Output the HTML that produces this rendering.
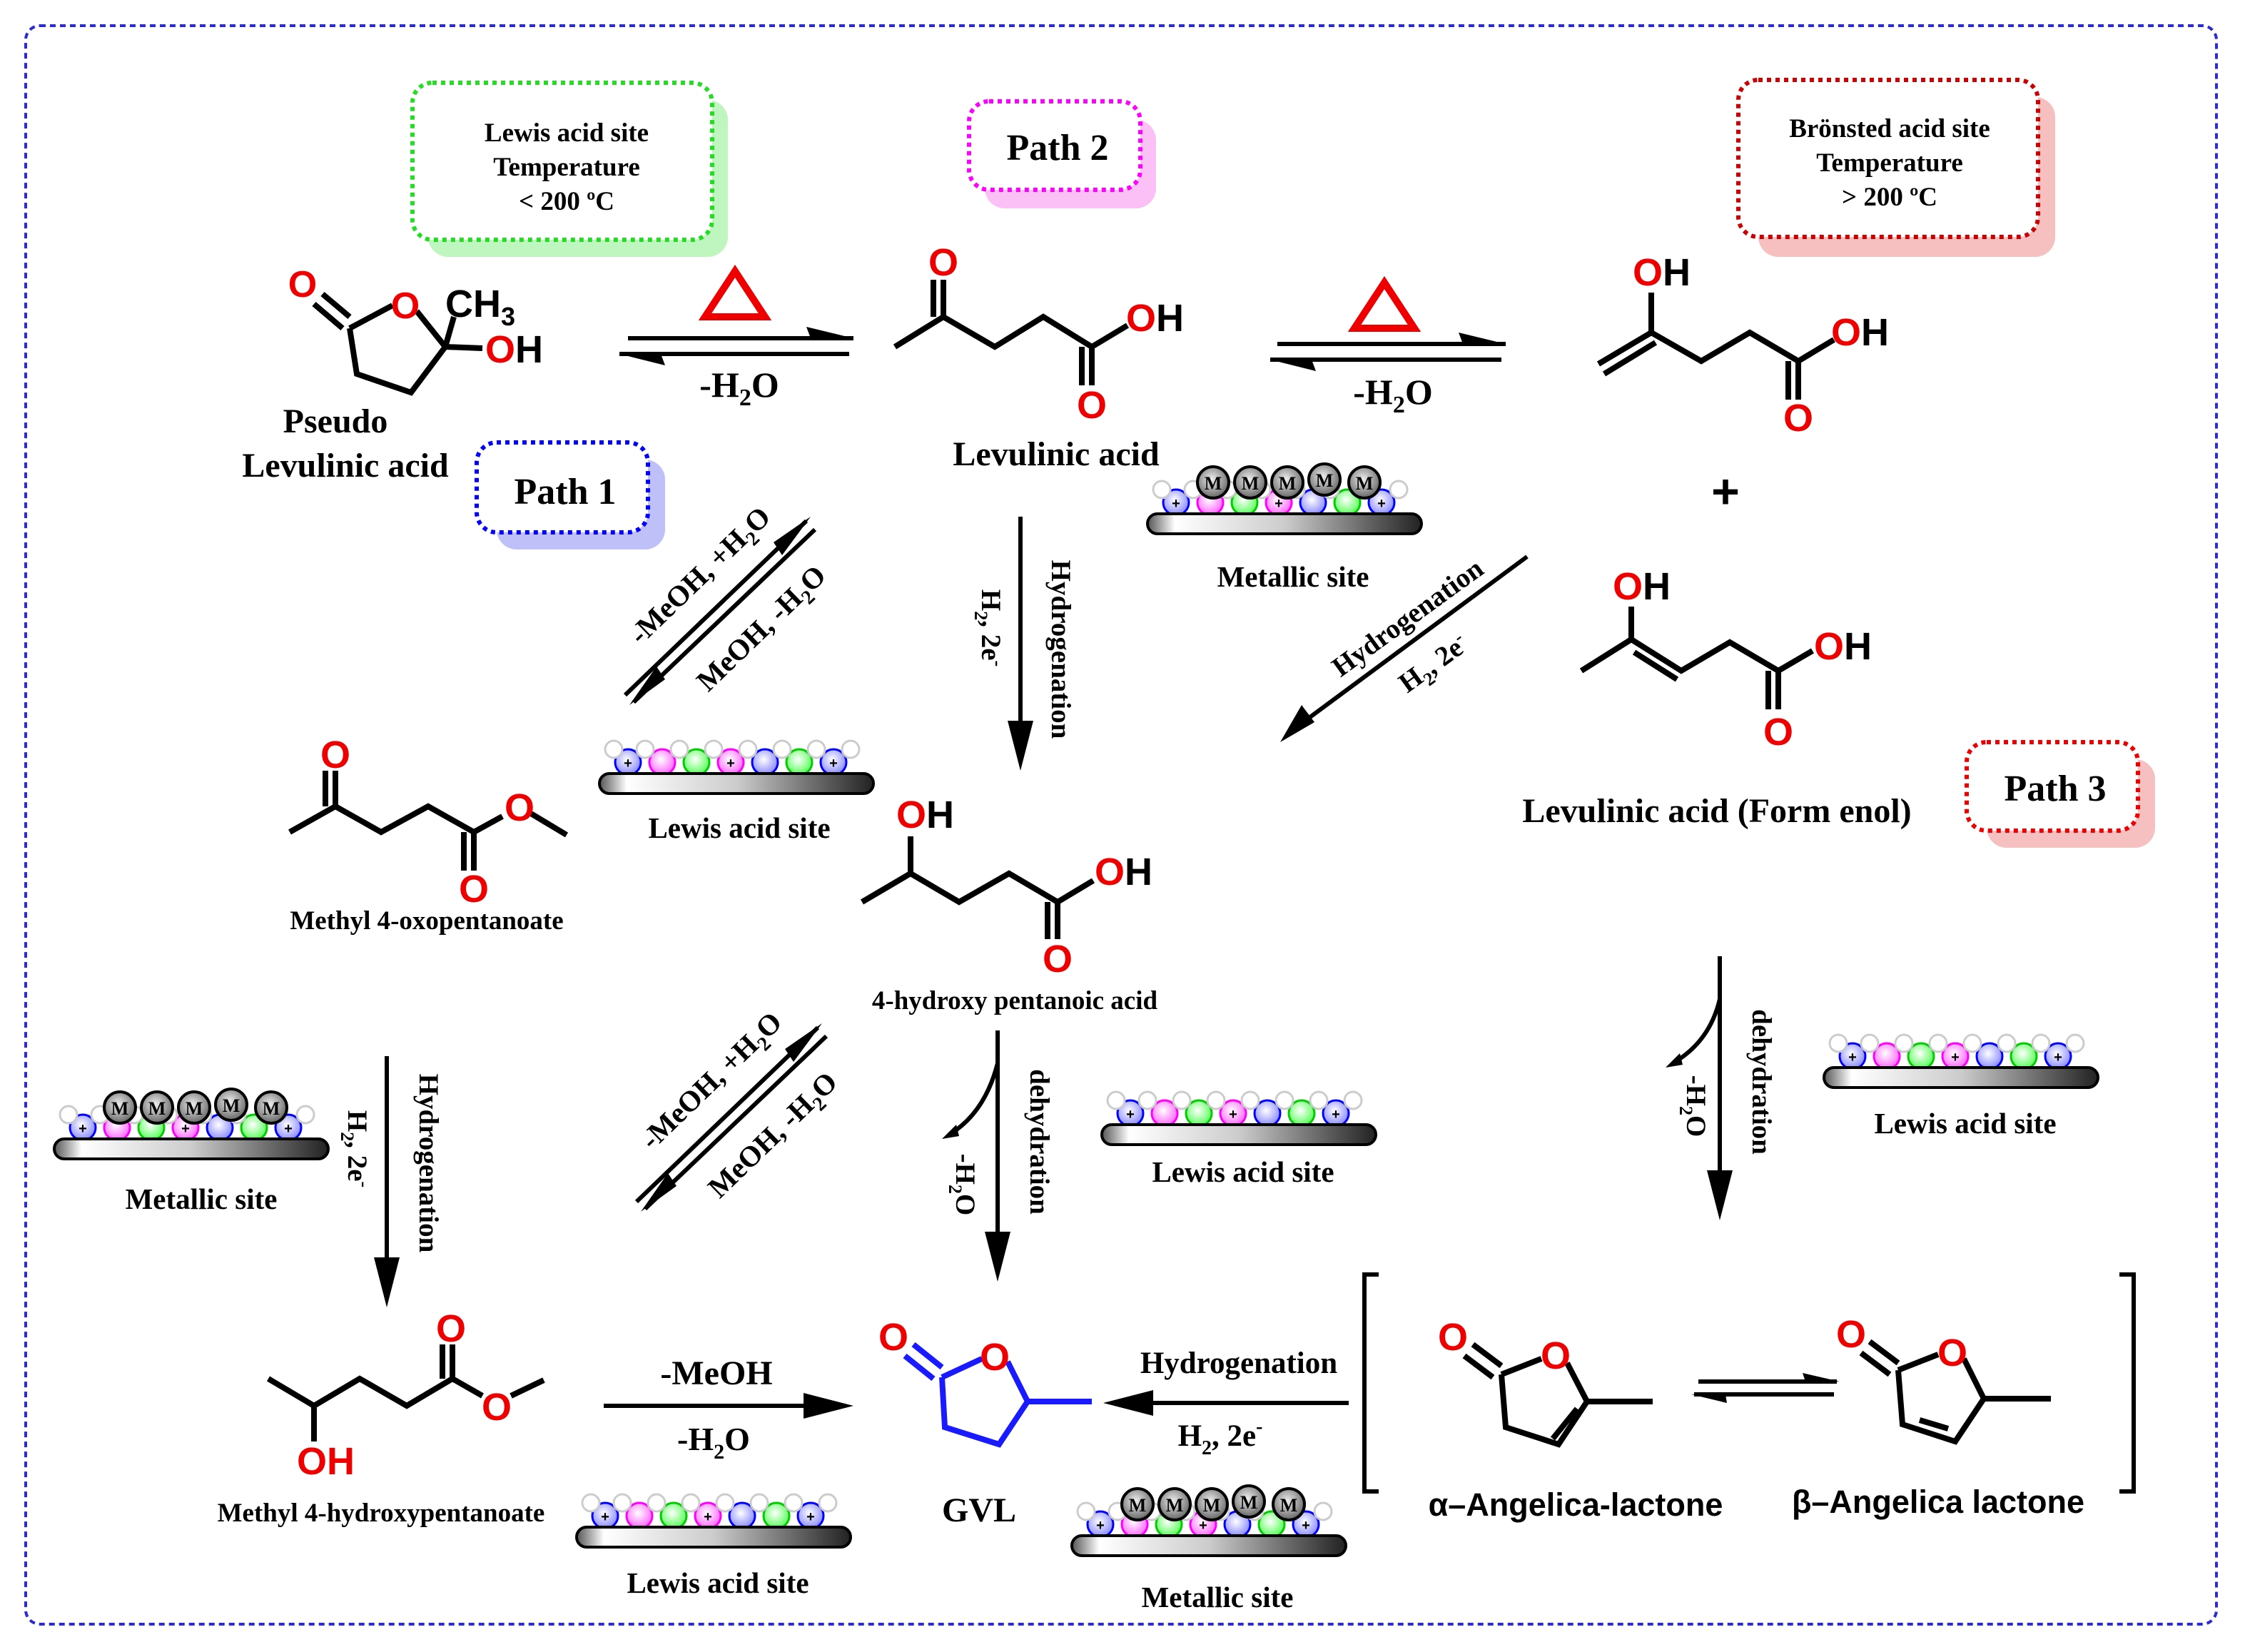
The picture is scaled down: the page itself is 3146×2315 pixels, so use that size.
<!DOCTYPE html>
<html><head><meta charset="utf-8"><style>
html,body{margin:0;padding:0;background:#fff}
svg{display:block}
.t{font-family:"Liberation Serif",serif;font-weight:bold;fill:#000}
.a{font-family:"Liberation Sans",sans-serif;font-weight:bold}
.r{fill:#e00}
.b{fill:none;stroke:#000;stroke-width:4;stroke-linejoin:miter;stroke-linecap:butt}
.bl{fill:none;stroke:#1a1aff;stroke-width:4}
.ln{stroke:#000;stroke-width:3;fill:none}
</style></head><body>
<svg width="3146" height="2315" viewBox="0 0 1573 1157.5" xmlns="http://www.w3.org/2000/svg">
<defs>
<linearGradient id="bar" x1="0" y1="0" x2="1" y2="0"><stop offset="0" stop-color="#555"/><stop offset="0.1" stop-color="#fff"/><stop offset="0.5" stop-color="#ccc"/><stop offset="1" stop-color="#222"/></linearGradient>
<radialGradient id="gb" cx="0.45" cy="0.4" r="0.6"><stop offset="0" stop-color="#fff"/><stop offset="1" stop-color="#88f"/></radialGradient>
<radialGradient id="gp" cx="0.45" cy="0.4" r="0.6"><stop offset="0" stop-color="#fff"/><stop offset="1" stop-color="#f6f"/></radialGradient>
<radialGradient id="gg" cx="0.45" cy="0.4" r="0.6"><stop offset="0" stop-color="#fff"/><stop offset="1" stop-color="#5f5"/></radialGradient>
<radialGradient id="gm" cx="0.45" cy="0.4" r="0.6"><stop offset="0" stop-color="#eee"/><stop offset="1" stop-color="#666"/></radialGradient>
<g id="lew">
<circle cx="14" cy="22" r="9" fill="url(#gb)" stroke="#00f" stroke-width="1.5"/>
<circle cx="38" cy="22" r="9" fill="url(#gp)" stroke="#f0f" stroke-width="1.5"/>
<circle cx="62" cy="22" r="9" fill="url(#gg)" stroke="#0c0" stroke-width="1.5"/>
<circle cx="86" cy="22" r="9" fill="url(#gp)" stroke="#f0f" stroke-width="1.5"/>
<circle cx="110" cy="22" r="9" fill="url(#gb)" stroke="#00f" stroke-width="1.5"/>
<circle cx="134" cy="22" r="9" fill="url(#gg)" stroke="#0c0" stroke-width="1.5"/>
<circle cx="158" cy="22" r="9" fill="url(#gb)" stroke="#00f" stroke-width="1.5"/>
<g fill="#fff" stroke="#ccc" stroke-width="1.5"><circle cx="4" cy="13" r="6"/><circle cx="26" cy="13" r="6"/><circle cx="50" cy="13" r="6"/><circle cx="74" cy="13" r="6"/><circle cx="98" cy="13" r="6"/><circle cx="122" cy="13" r="6"/><circle cx="146" cy="13" r="6"/><circle cx="170" cy="13" r="6"/></g>
<text x="14" y="26" font-size="10" class="a" text-anchor="middle">+</text><text x="86" y="26" font-size="10" class="a" text-anchor="middle">+</text><text x="158" y="26" font-size="10" class="a" text-anchor="middle">+</text>
<rect x="-6" y="30" width="192" height="14" rx="7" fill="url(#bar)" stroke="#000" stroke-width="2"/>
</g>
<g id="met">
<use href="#lew"/>
<g stroke="#000" stroke-width="2" fill="url(#gm)"><circle cx="40" cy="8" r="11"/><circle cx="66" cy="8" r="11"/><circle cx="92" cy="8" r="11"/><circle cx="118" cy="6" r="11"/><circle cx="146" cy="8" r="11"/></g>
<g class="t" font-size="13" text-anchor="middle"><text x="40" y="13">M</text><text x="66" y="13">M</text><text x="92" y="13">M</text><text x="118" y="11">M</text><text x="146" y="13">M</text></g>
</g>
</defs>
<rect width="1573" height="1158" fill="#fff"/>
<rect x="18" y="18" width="1535" height="1120" rx="10" fill="none" stroke="#2b2bd0" stroke-width="2" stroke-dasharray="4,3"/>

<rect x="300" y="70" width="210" height="110" rx="14" fill="#bff5bf"/>
<rect x="289" y="58" width="210" height="110" rx="14" fill="#fff" stroke="#2d2" stroke-width="3" stroke-dasharray="3,3"/>
<text class="t" font-size="18.5" text-anchor="middle"><tspan x="397" y="99">Lewis acid site</tspan><tspan x="397" y="123">Temperature</tspan><tspan x="397" y="147">&lt; 200 ºC</tspan></text>
<rect x="690" y="84" width="120" height="62" rx="14" fill="#fbc0f5"/>
<rect x="679" y="71" width="120" height="62" rx="14" fill="#fff" stroke="#f0f" stroke-width="3" stroke-dasharray="3,3"/>
<text x="741" y="112" class="t" font-size="26" text-anchor="middle">Path 2</text>
<rect x="1232" y="68" width="208" height="112" rx="14" fill="#f6c0c0"/>
<rect x="1218" y="56" width="210" height="110" rx="14" fill="#fff" stroke="#c00" stroke-width="3" stroke-dasharray="3,3"/>
<text class="t" font-size="18.5" text-anchor="middle"><tspan x="1324" y="96">Brönsted acid site</tspan><tspan x="1324" y="120">Temperature</tspan><tspan x="1324" y="144">&gt; 200 ºC</tspan></text>
<rect x="348" y="322" width="118" height="63" rx="14" fill="#c0c0f8"/>
<rect x="334" y="310" width="120" height="63" rx="14" fill="#fff" stroke="#00f" stroke-width="3" stroke-dasharray="3,3"/>
<text x="396" y="353" class="t" font-size="26" text-anchor="middle">Path 1</text>
<rect x="1392" y="532" width="118" height="62" rx="14" fill="#f6c0c0"/>
<rect x="1378" y="520" width="120" height="62" rx="14" fill="#fff" stroke="#e00" stroke-width="3" stroke-dasharray="3,3"/>
<text x="1440" y="561" class="t" font-size="26" text-anchor="middle">Path 3</text>

<path class="b" d="M245 230 L275 214 M292 218 L312 243 L288 275 L250 262 L245 230 M312 243 L318 222 M312 243 L338 244 M226 206 L245 222 M220 213 L240 230"/>
<text x="212" y="208" class="a r" font-size="26" text-anchor="middle">O</text>
<text x="284" y="223" class="a r" font-size="26" text-anchor="middle">O</text>
<text x="312" y="222" class="a" font-size="27">CH<tspan font-size="18" dy="6">3</tspan></text>
<text x="340" y="254" class="a" font-size="27"><tspan class="r">O</tspan>H</text>
<text x="235" y="303" class="t" font-size="24" text-anchor="middle">Pseudo</text>
<text x="242" y="334" class="t" font-size="24" text-anchor="middle">Levulinic acid</text>

<path class="ln" d="M440 237 L598 237 M434 248 L595 248"/>
<path d="M598 237 L565 229 L568 237Z M434 248 L466 256 L463 248Z" fill="#000"/>
<path d="M515 190 L494 222 L536 222Z" fill="none" stroke="#e00" stroke-width="5"/>
<text x="518" y="278" class="t" font-size="25" text-anchor="middle">-H<tspan font-size="17" dy="6">2</tspan><tspan dy="-6">O</tspan></text>

<path class="b" d="M627 243 L661 222 L697 243 L731 222 L765 243 L790 228 M661 222 L661 196 M765 243 L765 270 M758 243 L758 270"/>
<path class="b" d="M654 222 L654 196"/>
<text x="661" y="193" class="a r" font-size="27" text-anchor="middle">O</text>
<text x="765" y="293" class="a r" font-size="27" text-anchor="middle">O</text>
<text x="789" y="232" class="a" font-size="27"><tspan class="r">O</tspan>H</text>
<text x="740" y="326" class="t" font-size="24" text-anchor="middle">Levulinic acid</text>

<path class="ln" d="M895 241 L1055 241 M890 252 L1052 252"/>
<path d="M1055 241 L1022 233 L1025 241Z M890 252 L922 260 L919 252Z" fill="#000"/>
<path d="M970 198 L949 230 L991 230Z" fill="none" stroke="#e00" stroke-width="5"/>
<text x="976" y="283" class="t" font-size="25" text-anchor="middle">-H<tspan font-size="17" dy="6">2</tspan><tspan dy="-6">O</tspan></text>

<path class="b" d="M1120 255 L1157 233 L1192 253 L1226 233 L1260 253 L1285 238 M1124 262 L1160 240 M1157 233 L1157 205 M1260 253 L1260 280 M1253 253 L1253 280"/>
<text x="1144" y="200" class="a" font-size="27"><tspan class="r">O</tspan>H</text>
<text x="1260" y="302" class="a r" font-size="27" text-anchor="middle">O</text>
<text x="1283" y="242" class="a" font-size="27"><tspan class="r">O</tspan>H</text>
<text x="1209" y="356" class="a" font-size="34" text-anchor="middle">+</text>
<path class="b" d="M1108 470 L1143 448 L1178 470 L1212 450 L1246 470 L1270 456 M1145 457 L1175 476 M1143 448 L1143 425 M1246 470 L1246 497 M1239 470 L1239 497"/>
<text x="1130" y="420" class="a" font-size="27"><tspan class="r">O</tspan>H</text>
<text x="1246" y="522" class="a r" font-size="27" text-anchor="middle">O</text>
<text x="1271" y="462" class="a" font-size="27"><tspan class="r">O</tspan>H</text>
<text x="1203" y="576" class="t" font-size="24" text-anchor="middle">Levulinic acid (Form enol)</text>

<use href="#met" x="810" y="330"/>
<text x="906" y="411" class="t" font-size="20.5" text-anchor="middle">Metallic site</text>

<path class="ln" d="M1070 390 L905 512"/>
<path d="M897 520 L912 494 L921 506Z" fill="#000"/>
<text class="t" font-size="19.5" transform="translate(990 438) rotate(-36)" text-anchor="middle">Hydrogenation</text>
<text class="t" font-size="19.5" transform="translate(1008 470) rotate(-36)" text-anchor="middle">H<tspan font-size="13" dy="5">2</tspan><tspan dy="-5">, 2e</tspan><tspan font-size="13" dy="-7">-</tspan></text>

<path class="ln" d="M715 362 L715 512"/>
<path d="M715 540 L706 505 L724 505Z" fill="#000"/>
<text class="t" font-size="19.5" transform="translate(737 455) rotate(90)" text-anchor="middle">Hydrogenation</text>
<text class="t" font-size="19.5" transform="translate(688 440) rotate(90)" text-anchor="middle">H<tspan font-size="13" dy="5">2</tspan><tspan dy="-5">, 2e</tspan><tspan font-size="13" dy="-7">-</tspan></text>

<path class="ln" d="M438 487 L565 365 M444 492 L571 371"/>
<path d="M568 362 L548 389 L542 380Z M441 494 L460 467 L466 476Z" fill="#000"/>
<text class="t" font-size="20.5" transform="translate(495 408) rotate(-44)" text-anchor="middle">-MeOH, +H<tspan font-size="14" dy="5">2</tspan><tspan dy="-5">O</tspan></text>
<text class="t" font-size="20.5" transform="translate(538 445) rotate(-44)" text-anchor="middle">MeOH, -H<tspan font-size="14" dy="5">2</tspan><tspan dy="-5">O</tspan></text>

<use href="#lew" x="426" y="512"/>
<text x="518" y="587" class="t" font-size="20.5" text-anchor="middle">Lewis acid site</text>

<path class="b" d="M203 583 L235 565 L267 583 L300 565 L332 583 L352 572 M372 570 L397 585 M235 565 L235 540 M228 565 L228 540 M332 583 L332 610 M325 583 L325 610"/>
<text x="235" y="538" class="a r" font-size="27" text-anchor="middle">O</text>
<text x="364" y="575" class="a r" font-size="27" text-anchor="middle">O</text>
<text x="332" y="632" class="a r" font-size="27" text-anchor="middle">O</text>
<text x="299" y="651" class="t" font-size="18.5" text-anchor="middle">Methyl 4-oxopentanoate</text>

<path class="b" d="M604 632 L638 612 L672 632 L707 612 L741 632 L766 617 M638 612 L638 586 M741 632 L741 658 M734 632 L734 658"/>
<text x="628" y="580" class="a" font-size="27"><tspan class="r">O</tspan>H</text>
<text x="741" y="681" class="a r" font-size="27" text-anchor="middle">O</text>
<text x="767" y="620" class="a" font-size="27"><tspan class="r">O</tspan>H</text>
<text x="711" y="707" class="t" font-size="18.5" text-anchor="middle">4-hydroxy pentanoic acid</text>

<path class="ln" d="M699 722 L699 870"/>
<path d="M699 898 L690 863 L708 863Z" fill="#000"/>
<path class="ln" d="M699 745 Q690 780 665 795" stroke-width="2"/>
<path d="M660 798 L670 788 L672 796Z" fill="#000"/>
<text class="t" font-size="19.5" transform="translate(722 800) rotate(90)" text-anchor="middle">dehydration</text>
<text class="t" font-size="19.5" transform="translate(670 830) rotate(90)" text-anchor="middle">-H<tspan font-size="13" dy="5">2</tspan><tspan dy="-5">O</tspan></text>

<use href="#lew" x="778" y="758"/>
<text x="871" y="828" class="t" font-size="20.5" text-anchor="middle">Lewis acid site</text>

<path class="ln" d="M446 842 L573 720 M452 847 L579 726"/>
<path d="M576 717 L556 744 L550 735Z M449 849 L468 822 L474 831Z" fill="#000"/>
<text class="t" font-size="20.5" transform="translate(503 762) rotate(-44)" text-anchor="middle">-MeOH, +H<tspan font-size="14" dy="5">2</tspan><tspan dy="-5">O</tspan></text>
<text class="t" font-size="20.5" transform="translate(546 800) rotate(-44)" text-anchor="middle">MeOH, -H<tspan font-size="14" dy="5">2</tspan><tspan dy="-5">O</tspan></text>

<use href="#met" x="44" y="768"/>
<text x="141" y="847" class="t" font-size="20.5" text-anchor="middle">Metallic site</text>
<path class="ln" d="M271 740 L271 888"/>
<path d="M271 916 L262 881 L280 881Z" fill="#000"/>
<text class="t" font-size="19.5" transform="translate(294 815) rotate(90)" text-anchor="middle">Hydrogenation</text>
<text class="t" font-size="19.5" transform="translate(244 805) rotate(90)" text-anchor="middle">H<tspan font-size="13" dy="5">2</tspan><tspan dy="-5">, 2e</tspan><tspan font-size="13" dy="-7">-</tspan></text>

<path class="b" d="M188 966 L220 985 L252 966 L285 985 L317 966 L338 978 M358 978 L381 967 M220 985 L220 1010 M317 966 L317 942 M310 966 L310 942"/>
<text x="316" y="940" class="a r" font-size="27" text-anchor="middle">O</text>
<text x="348" y="995" class="a r" font-size="27" text-anchor="middle">O</text>
<text x="208" y="1033" class="a r" font-size="27">OH</text>
<text x="267" y="1066" class="t" font-size="18.5" text-anchor="middle">Methyl 4-hydroxypentanoate</text>

<path class="ln" d="M423 985 L570 985"/>
<path d="M598 985 L563 976 L563 994Z" fill="#000"/>
<text x="502" y="970" class="t" font-size="24" text-anchor="middle">-MeOH</text>
<text x="500" y="1016" class="t" font-size="23" text-anchor="middle">-H<tspan font-size="15" dy="6">2</tspan><tspan dy="-6">O</tspan></text>
<use href="#lew" x="410" y="1040"/>
<text x="503" y="1116" class="t" font-size="20.5" text-anchor="middle">Lewis acid site</text>

<path class="bl" d="M660 965 L688 952 M706 954 L720 982 L700 1012 L662 1000 L660 965 M720 982 L765 982 M640 942 L660 958 M634 950 L654 966"/>
<text x="626" y="946" class="a r" font-size="27" text-anchor="middle">O</text>
<text x="697" y="960" class="a r" font-size="27" text-anchor="middle">O</text>
<text x="686" y="1066" class="t" font-size="24" text-anchor="middle">GVL</text>

<path class="ln" d="M945 983 L800 983"/>
<path d="M773 983 L808 974 L808 992Z" fill="#000"/>
<text x="868" y="962" class="t" font-size="21.5" text-anchor="middle">Hydrogenation</text>
<text x="855" y="1013" class="t" font-size="21.5" text-anchor="middle">H<tspan font-size="14" dy="6">2</tspan><tspan dy="-6">, 2e</tspan><tspan font-size="14" dy="-9">-</tspan></text>
<use href="#met" x="757" y="1046"/>
<text x="853" y="1126" class="t" font-size="20.5" text-anchor="middle">Metallic site</text>

<path class="ln" d="M1205 670 L1205 825"/>
<path d="M1205 855 L1196 820 L1214 820Z" fill="#000"/>
<path class="ln" d="M1205 700 Q1198 730 1172 745" stroke-width="2"/>
<path d="M1167 748 L1177 738 L1179 746Z" fill="#000"/>
<text class="t" font-size="19.5" transform="translate(1228 758) rotate(90)" text-anchor="middle">dehydration</text>
<text class="t" font-size="19.5" transform="translate(1182 775) rotate(90)" text-anchor="middle">-H<tspan font-size="13" dy="5">2</tspan><tspan dy="-5">O</tspan></text>
<use href="#lew" x="1284" y="718"/>
<text x="1377" y="794" class="t" font-size="20.5" text-anchor="middle">Lewis acid site</text>

<path class="ln" d="M966 893 L956 893 L956 1045 L966 1045 M1485 893 L1495 893 L1495 1045 L1485 1045"/>

<path class="b" d="M1052 963 L1080 952 M1098 955 L1112 982 L1092 1012 L1055 1000 L1052 963 M1112 982 L1158 982 M1105 987 L1088 1008 M1032 942 L1052 957 M1026 950 L1046 965"/>
<text x="1018" y="946" class="a r" font-size="27" text-anchor="middle">O</text>
<text x="1090" y="959" class="a r" font-size="27" text-anchor="middle">O</text>
<text x="1104" y="1062" class="a" font-size="22.5" text-anchor="middle">α–Angelica-lactone</text>

<path class="ln" d="M1190 968 L1287 968 M1187 977 L1285 977" stroke-width="2.5"/>
<path d="M1289 968 L1263 962 L1265 968Z M1185 977 L1210 983 L1209 977Z" fill="#000"/>

<path class="b" d="M1330 960 L1358 949 M1376 952 L1390 980 L1370 1010 L1333 998 L1330 960 M1390 980 L1437 980 M1345 995 L1365 1001 M1310 940 L1330 955 M1304 948 L1324 963"/>
<text x="1297" y="944" class="a r" font-size="27" text-anchor="middle">O</text>
<text x="1368" y="957" class="a r" font-size="27" text-anchor="middle">O</text>
<text x="1358" y="1060" class="a" font-size="22.5" text-anchor="middle">β–Angelica lactone</text>
</svg>
</body></html>
